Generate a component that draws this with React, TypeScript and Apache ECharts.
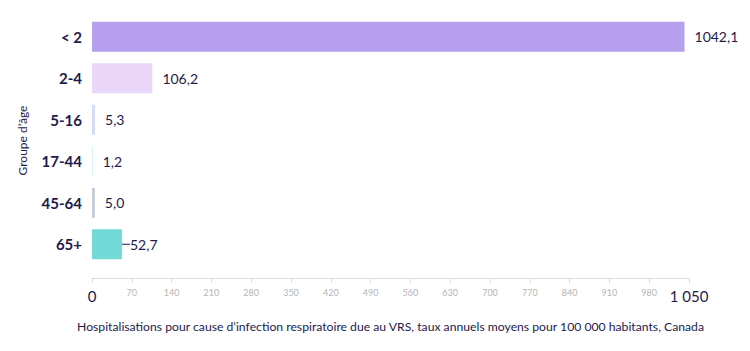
import React, { useEffect, useRef } from "react";
import * as echarts from "echarts";

const categories = ["< 2", "2-4", "5-16", "17-44", "45-64", "65+"];
const values = [1042.1, 106.2, 5.3, 1.2, 5.0, 52.7];
const colors = ["#b6a0ee", "#e9d6f8", "#d6dbf5", "#c6eef5", "#c2cad7", "#72dad6"];
const xTicks = [0, 70, 140, 210, 280, 350, 420, 490, 560, 630, 700, 770, 840, 910, 980, 1050];

const NAVY = "#1d1b4c";
const FONT = "Lato, 'Open Sans', sans-serif";

const fmt = (v: number) => v.toFixed(1).replace(".", ",");

export default function App() {
  const ref = useRef<HTMLDivElement>(null);
  useEffect(() => {
    const chart = echarts.init(ref.current!, undefined, { renderer: "svg" });
    chart.setOption({
      animation: false,
      textStyle: { fontFamily: FONT },
      grid: { left: 81, right: 53, top: 8, bottom: 78, containLabel: false },
      xAxis: {
        type: "value",
        min: xTicks[0],
        max: xTicks[xTicks.length - 1],
        interval: 70,
        offset: 13,
        name: "Hospitalisations pour cause d’infection respiratoire due au VRS, taux annuels moyens pour 100 000 habitants, Canada",
        nameLocation: "middle",
        nameGap: 42,
        nameTextStyle: { color: NAVY, fontSize: 12.2, fontFamily: FONT },
        axisLine: { show: true, lineStyle: { color: "#dcdcdc", width: 1 } },
        axisTick: { show: true, length: 5, lineStyle: { color: "#dcdcdc" } },
        splitLine: { show: false },
        axisLabel: {
          margin: 10,
          formatter: (v: number) => {
            if (v === 0) return "{big|0}";
            if (v === 1050) return "{big|1 050}";
            return "{small|" + v + "}";
          },
          rich: {
            big: { fontSize: 15, color: NAVY, fontFamily: FONT },
            small: { fontSize: 9, color: "#b5b5b5", fontFamily: FONT },
          },
        },
      },
      yAxis: {
        type: "category",
        data: categories,
        inverse: true,
        name: "Groupe d’âge",
        nameLocation: "middle",
        nameGap: 64,
        nameTextStyle: { color: NAVY, fontSize: 12, fontFamily: FONT },
        axisLine: { show: false },
        axisTick: { show: false },
        axisLabel: {
          color: NAVY,
          fontSize: 15,
          fontWeight: "bold",
          fontFamily: FONT,
          margin: 10,
        },
      },
      series: [
        {
          type: "bar",
          barWidth: 30,
          data: values.map((v, i) => ({
            value: v,
            itemStyle: { color: colors[i] },
            label:
              i === 5
                ? {
                    show: true,
                    position: "right",
                    distance: 0,
                    formatter: "{ln|}{v|" + fmt(v) + "}",
                    rich: {
                      ln: { width: 8, height: 1, backgroundColor: NAVY, verticalAlign: "middle" },
                      v: { fontSize: 14, color: NAVY, fontFamily: FONT },
                    },
                  }
                : undefined,
          })),
          label: {
            show: true,
            position: "right",
            distance: 10,
            color: NAVY,
            fontSize: 14,
            fontFamily: FONT,
            formatter: (p: any) => fmt(p.value),
          },
        },
      ],
    });
    return () => chart.dispose();
  }, []);
  return <div ref={ref} style={{ width: 734, height: 335 }} />;
}
